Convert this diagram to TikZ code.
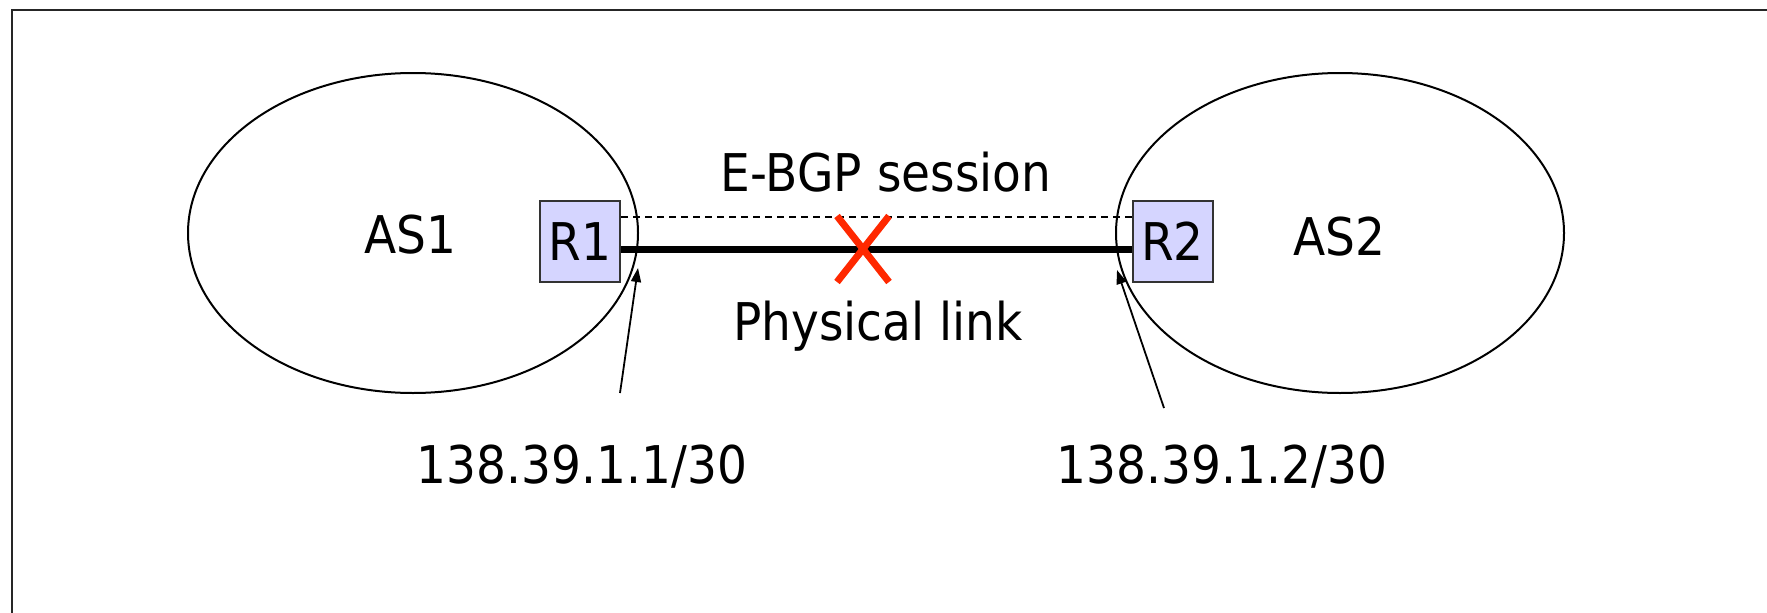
\documentclass[tikz,border=0pt]{standalone}
\usepackage{fontspec}
\setmainfont[FakeStretch=0.905]{DejaVu Sans}
\usetikzlibrary{arrows.meta,calc}
\definecolor{routerfill}{RGB}{213,213,255}
\definecolor{crossred}{RGB}{255,40,0}
\tikzset{
  lbl/.style={anchor=base, inner sep=0pt, font=\fontsize{52}{60}\selectfont},
  router/.style={draw=black!80, line width=2pt, fill=routerfill, minimum width=80pt, minimum height=81pt, inner sep=0pt, font=\fontsize{52}{60}\selectfont},
  asbound/.style={draw=black, line width=2pt},
  ptr/.style={line width=1.8pt, -{Triangle[length=14pt,width=10pt]}},
}
\begin{document}
\begin{tikzpicture}[x=1pt,y=-1pt]
\useasboundingbox (0,0) rectangle (1767,613);
% frame
\draw[line width=2.6pt, black!85] (12,613) -- (12,10) -- (1767,10);
% autonomous systems
\draw[asbound] (413,233) ellipse [x radius=225, y radius=160];
\draw[asbound] (1340,233) ellipse [x radius=224, y radius=160];
\node[lbl] (as1) at (410,253) {AS1};
\node[lbl] (as2) at (1339,255) {AS2};
% routers
\node[router] (R1) at (580,241.5) {R1};
\node[router] (R2) at (1172.5,241.5) {R2};
% session and link
\draw[line width=1.6pt, dash pattern=on 7pt off 5pt] ([yshift=24.5pt]R1.east) -- ([yshift=24.5pt]R2.west);
\draw[line width=7pt] ([yshift=-7.5pt]R1.east) -- ([yshift=-7.5pt]R2.west);
\node[lbl] (ebgp) at (886,191) {E-BGP session};
\node[lbl] (phys) at (878,340) {Physical link};
% failure cross
\coordinate (x) at (863,249);
\draw[crossred, line width=7pt] ($(x)+(-26,-33)$) -- ($(x)+(26,33)$)
                                 ($(x)+(26,-33)$) -- ($(x)+(-26,33)$);
% addresses
\node[lbl] (ip1) at (582,483) {138.39.1.1/30};
\node[lbl] (ip2) at (1222,483) {138.39.1.2/30};
\coordinate (t1) at (620,393);
\coordinate (h1) at (638,268);
\coordinate (t2) at (1164,408);
\coordinate (h2) at (1117,270);
\draw[ptr] (t1) -- (h1);
\draw[ptr] (t2) -- (h2);
\end{tikzpicture}
\end{document}
